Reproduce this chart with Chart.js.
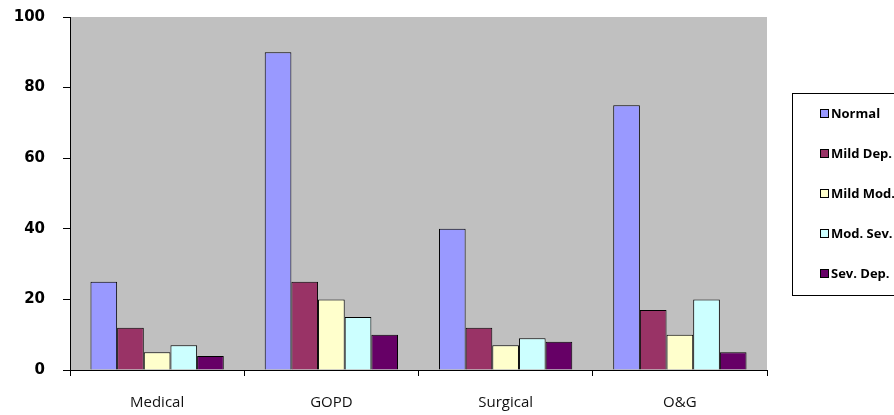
<!DOCTYPE html>
<html>
<head>
<meta charset="utf-8">
<script src="https://cdn.jsdelivr.net/npm/chart.js@4"></script>
<style>
  html, body { margin: 0; padding: 0; background: #fff; overflow: hidden; }
  #wrap { width: 894px; height: 415px; position: relative; }
</style>
</head>
<body>
<div id="wrap"><canvas id="graph_depression"></canvas></div>
<script>
// categories and series
var categories = ['Medical', 'GOPD', 'Surgical', 'O&G'];
var normal = [25, 90, 40, 75];
var mildDep = [12, 25, 12, 17];
var mildModDep = [5, 20, 7, 10];
var modSevDep = [7, 15, 9, 20];
var sevDep = [4, 10, 8, 5];
var yTicks = [0, 20, 40, 60, 80, 100];

// fond gris de la zone de tracé
var plotBg = {
    id: 'plotBg',
    beforeDraw: function(chart) {
        var a = chart.chartArea, ctx = chart.ctx;
        ctx.save();
        ctx.fillStyle = '#c0c0c0';
        ctx.fillRect(a.left, a.top, a.right - a.left, a.bottom - a.top);
        ctx.restore();
    }
};

// légende encadrée à droite (coupée par le bord comme l'original)
var boxLegend = {
    id: 'boxLegend',
    afterDraw: function(chart) {
        var ctx = chart.ctx;
        ctx.save();
        ctx.fillStyle = '#fff';
        ctx.strokeStyle = '#000';
        ctx.lineWidth = 1;
        ctx.fillRect(792.5, 93.5, 140, 202);
        ctx.strokeRect(792.5, 93.5, 140, 202);
        ctx.font = 'bold 13px "Open Sans", sans-serif';
        ctx.textBaseline = 'middle';
        chart.data.datasets.forEach(function(ds, i) {
            var y = 114 + i * 40;
            ctx.fillStyle = ds.backgroundColor;
            ctx.fillRect(820.5, y - 4.5, 8, 8);
            ctx.strokeStyle = '#000';
            ctx.strokeRect(820.5, y - 4.5, 8, 8);
            ctx.fillStyle = '#000';
            ctx.fillText(ds.label, 831, y);
        });
        ctx.restore();
    }
};

function graphique() {
    var ctx = document.getElementById('graph_depression').getContext('2d');
    var mk = function(label, data, color) {
        return {
            label: label,
            data: data,
            backgroundColor: color,
            borderColor: '#000',
            borderWidth: 1,
            categoryPercentage: 0.765,
            barPercentage: 1
        };
    };
    var myChart = new Chart(ctx, {
        type: 'bar',
        data: {
            labels: categories,
            datasets: [
                mk('Normal', normal, '#9999ff'),
                mk('Mild Dep.', mildDep, '#993366'),
                mk('Mild Mod. Dep.', mildModDep, '#ffffcc'),
                mk('Mod. Sev. Dep.', modSevDep, '#ccffff'),
                mk('Sev. Dep.', sevDep, '#660066')
            ]
        },
        options: {
            responsive: true,
            maintainAspectRatio: false,
            animation: false,
            layout: { padding: { top: 17, right: 127, bottom: 0, left: 0 } },
            plugins: {
                legend: { display: false },
                tooltip: { enabled: false }
            },
            scales: {
                x: {
                    grid: { display: true, drawOnChartArea: false, offset: true, color: '#000', tickLength: 6 },
                    border: { color: '#000', width: 1 },
                    ticks: { color: '#111', padding: 18, font: { family: '"Open Sans", sans-serif', size: 15 } },
                    afterFit: function(s) { s.height = 45; s.paddingLeft = 0; s.paddingRight = 0; }
                },
                y: {
                    min: 0,
                    max: 100,
                    afterBuildTicks: function(s) { s.ticks = yTicks.map(function(v) { return { value: v }; }); },
                    grid: { display: true, drawOnChartArea: false, color: '#000', tickLength: 7 },
                    border: { color: '#000', width: 1 },
                    ticks: { color: '#000', padding: 18, font: { family: '"DejaVu Sans", sans-serif', size: 15, weight: 'bold' } },
                    afterFit: function(s) { s.width = 70; s.paddingTop = 0; s.paddingBottom = 0; }
                }
            }
        },
        plugins: [plotBg, boxLegend]
    });
}

graphique();
</script>
</body>
</html>
